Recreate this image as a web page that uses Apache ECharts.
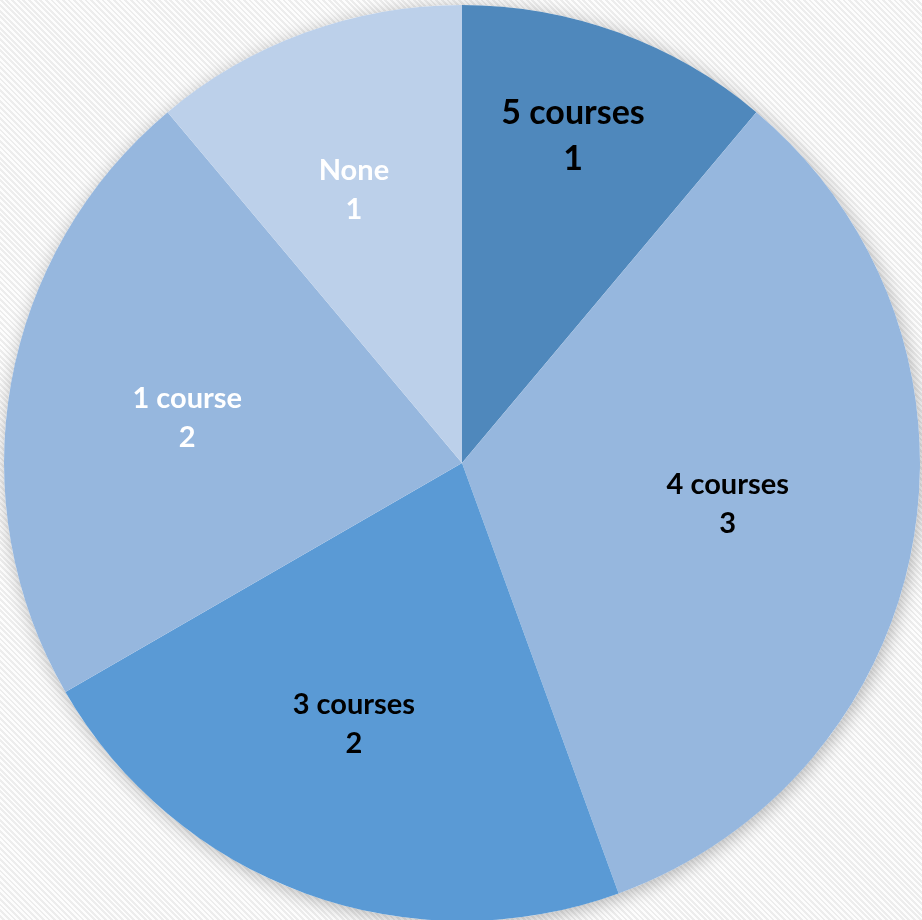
<!DOCTYPE html>
<html>
<head>
<meta charset="utf-8">
<script src="https://cdn.jsdelivr.net/npm/echarts@6/dist/echarts.min.js"></script>
<style>
  html, body { margin: 0; padding: 0; }
  body {
    background-color: #fbfbfb;
    background-image: repeating-linear-gradient(45deg, #fdfdfd 0px, #fdfdfd 2px, #ededed 2px, #ededed 4px);
  }
  #chart { width: 922px; height: 920px; }
</style>
</head>
<body>
<div id="chart"></div>
<script>
// categories, values and slice colours (clockwise from 12 o'clock)
var categories = ['5 courses', '4 courses', '3 courses', '1 course', 'None'];
var counts = [1, 3, 2, 2, 1];
var sliceColors = ['#4f88bc', '#96b7de', '#5a9ad5', '#96b7de', '#bcd0ea'];
var labelColors = ['#000', '#000', '#000', '#fff', '#fff'];
// small nudges so labels sit where Excel's best-fit put them
var labelNudge = [[-8, 0], [-8, -7], [-13, 0], [-1, 3], [-13, -12]];

var FONT = 'Lato, "Open Sans", sans-serif';
var CENTER = [462, 463];
var R = 458;

function slices(showLabel) {
  var out = [];
  for (var i = 0; i < categories.length; i++) {
    out.push({
      name: categories[i],
      value: counts[i],
      itemStyle: { color: sliceColors[i] },
      label: {
        show: showLabel(i),
        color: labelColors[i],
        fontSize: i === 0 ? 34 : 29,
        lineHeight: i === 0 ? 46 : 39
      }
    });
  }
  return out;
}

var labelBase = {
  position: 'inside',
  fontFamily: FONT,
  fontWeight: 'bold',
  formatter: '{b}\n{c}'
};

function labelOnly(filter) {
  return slices(filter).map(function (d) { d.itemStyle = { color: 'transparent' }; return d; });
}

function nudge(params) {
  var n = labelNudge[params.dataIndex];
  return { dx: n[0], dy: n[1] };
}

var option = {
  backgroundColor: 'transparent',
  animation: false,
  series: [
    // soft shadow under the whole pie
    {
      type: 'pie', silent: true, z: 1,
      center: CENTER, radius: R,
      label: { show: false }, labelLine: { show: false },
      itemStyle: { color: '#ffffff', shadowBlur: 18, shadowColor: 'rgba(0,0,0,0.28)', shadowOffsetX: 2, shadowOffsetY: 3 },
      data: [{ value: 1, name: 'bg' }]
    },
    // slices
    {
      type: 'pie', z: 2,
      center: CENTER, radius: R,
      startAngle: 90, clockwise: true,
      itemStyle: { borderWidth: 0 },
      label: { show: false }, labelLine: { show: false },
      data: slices(function () { return false; })
    },
    // labels for most slices
    {
      type: 'pie', silent: true, z: 3,
      center: CENTER, radius: [92, R],
      startAngle: 90, clockwise: true,
      itemStyle: { color: 'transparent', borderWidth: 0 },
      label: labelBase, labelLine: { show: false },
      labelLayout: nudge,
      data: labelOnly(function (i) { return i !== 0; })
    },
    // label for the first (narrow, top) slice, placed further out
    {
      type: 'pie', silent: true, z: 3,
      center: CENTER, radius: [232, R],
      startAngle: 90, clockwise: true,
      itemStyle: { color: 'transparent', borderWidth: 0 },
      label: labelBase, labelLine: { show: false },
      labelLayout: nudge,
      data: labelOnly(function (i) { return i === 0; })
    }
  ]
};

var myChart = echarts.init(document.getElementById('chart'), null, { renderer: 'canvas' });
myChart.setOption(option);
</script>
</body>
</html>
